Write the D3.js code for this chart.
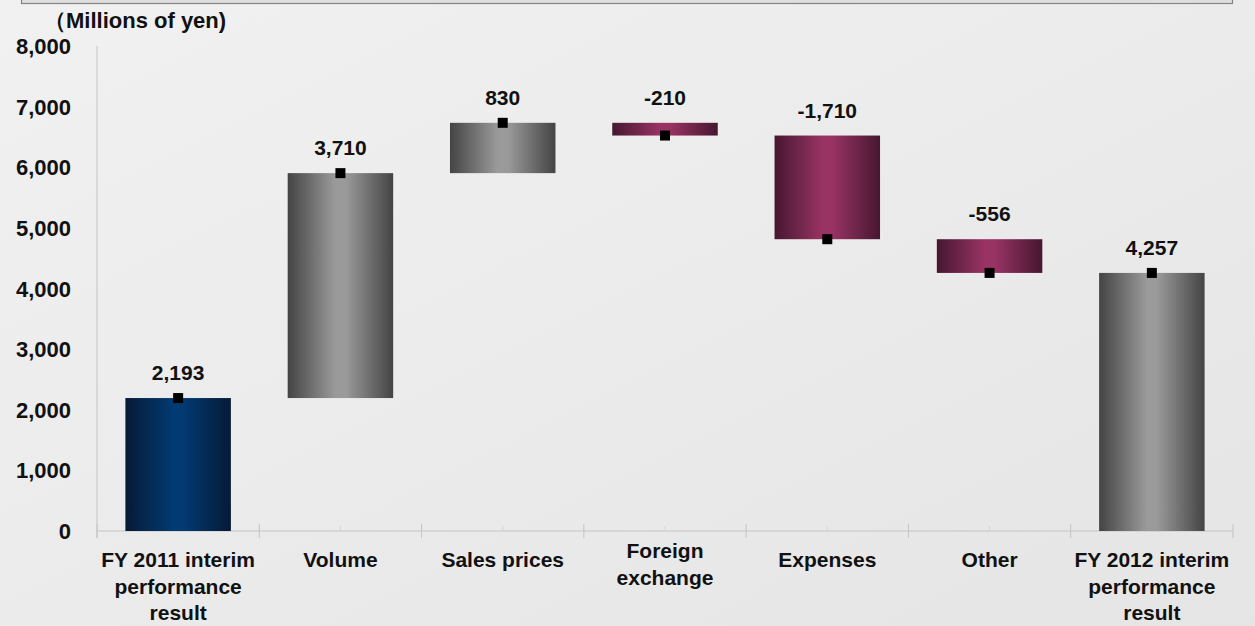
<html>
  <head>
    <meta charset="utf-8" />
    <script src="https://cdn.jsdelivr.net/npm/d3@7"></script>
    <style>
      body {
        margin: 0;
        background: #ececec;
        font-family: "Liberation Sans", Arial, sans-serif;
      }
    </style>
  </head>
  <body>
    <svg id="chart" width="1255" height="626"></svg>
    <script>
      // waterfall data (millions of yen)
      var categories = [
        "FY 2011 interim|performance|result",
        "Volume",
        "Sales prices",
        "Foreign|exchange",
        "Expenses",
        "Other",
        "FY 2012 interim|performance|result",
      ];
      var values = [2193, 3710, 830, -210, -1710, -556, 4257];
      var kinds = ["start", "up", "up", "down", "down", "down", "end"];
      var valueLabels = ["2,193", "3,710", "830", "-210", "-1,710", "-556", "4,257"];
      var yTicks = [0, 1000, 2000, 3000, 4000, 5000, 6000, 7000, 8000];
      var unitLabel = "（Millions of yen)";

      var svg = d3.select("#chart"),
        margin = { top: 46, bottom: 95, left: 97, right: 22 },
        width = +svg.attr("width"),
        height = +svg.attr("height");

      // background
      var defs = svg.append("defs");
      var bg = defs
        .append("linearGradient")
        .attr("id", "bg")
        .attr("x1", 0).attr("y1", 0).attr("x2", 1).attr("y2", 1);
      bg.append("stop").attr("offset", 0).attr("stop-color", "#f1f1f1");
      bg.append("stop").attr("offset", 0.5).attr("stop-color", "#ebebeb");
      bg.append("stop").attr("offset", 1).attr("stop-color", "#e5e5e5");
      svg.append("rect").attr("width", width).attr("height", height).attr("fill", "url(#bg)");

      // header strip at the top
      svg
        .append("rect")
        .attr("x", 21.5)
        .attr("y", -5)
        .attr("width", 1211)
        .attr("height", 8.5)
        .attr("fill", "#dedede")
        .attr("stroke", "#858585")
        .attr("stroke-width", 1.2);

      var grads = {
        start: ["#061a36", "#023a72"],
        up: ["#444444", "#9a9a9a"],
        end: ["#444444", "#9a9a9a"],
        down: ["#461731", "#983363"],
      };
      Object.keys(grads).forEach(function (k) {
        var g = defs
          .append("linearGradient")
          .attr("id", "g-" + k)
          .attr("x1", 0).attr("x2", 1).attr("y1", 0).attr("y2", 0);
        g.append("stop").attr("offset", 0).attr("stop-color", grads[k][0]);
        g.append("stop").attr("offset", 0.45).attr("stop-color", grads[k][1]);
        g.append("stop").attr("offset", 0.55).attr("stop-color", grads[k][1]);
        g.append("stop").attr("offset", 1).attr("stop-color", grads[k][0]);
      });

      // cumulative positions
      var run = 0;
      var data = values.map(function (v, i) {
        var d = { cat: categories[i], kind: kinds[i], label: valueLabels[i] };
        if (kinds[i] == "start" || kinds[i] == "end") {
          d.from = 0;
          d.to = v;
          run = v;
        } else {
          d.from = run;
          d.to = run + v;
          run = run + v;
        }
        return d;
      });

      var x = d3
        .scaleBand()
        .domain(categories)
        .range([margin.left, width - margin.right])
        .paddingInner(0.35)
        .paddingOuter(0.175);

      var y = d3.scaleLinear().domain([0, 8000]).range([height - margin.bottom, margin.top]);

      var axisColor = "#c4c4c4";

      // y axis line and labels
      svg
        .append("line")
        .attr("x1", margin.left).attr("x2", margin.left)
        .attr("y1", y(8000)).attr("y2", y(0) + 7)
        .attr("stroke", axisColor);

      svg
        .selectAll(".ytick")
        .data(yTicks)
        .enter()
        .append("text")
        .attr("class", "ytick")
        .attr("x", 71)
        .attr("y", (d) => y(d) + 8)
        .attr("text-anchor", "end")
        .attr("font-size", 22)
        .attr("font-weight", "bold")
        .attr("fill", "#111")
        .text((d) => d3.format(",")(d));

      svg
        .append("text")
        .attr("x", 44)
        .attr("y", 28)
        .attr("font-size", 22)
        .attr("font-weight", "bold")
        .attr("fill", "#111")
        .text(unitLabel);

      // x axis baseline and ticks
      var step = x.step();
      svg
        .append("line")
        .attr("x1", margin.left).attr("x2", width - margin.right)
        .attr("y1", y(0)).attr("y2", y(0))
        .attr("stroke", axisColor);

      svg
        .selectAll(".xtick")
        .data(d3.range(categories.length + 1))
        .enter()
        .append("line")
        .attr("x1", (i) => margin.left + i * step)
        .attr("x2", (i) => margin.left + i * step)
        .attr("y1", y(0) - 7)
        .attr("y2", y(0) + 7)
        .attr("stroke", axisColor);

      svg
        .selectAll(".ctick")
        .data(categories)
        .enter()
        .append("line")
        .attr("x1", (d) => x(d) + x.bandwidth() / 2)
        .attr("x2", (d) => x(d) + x.bandwidth() / 2)
        .attr("y1", y(0) - 5)
        .attr("y2", y(0))
        .attr("stroke", "#d4d4d4");

      // category labels
      var catText = svg
        .selectAll(".cat")
        .data(categories)
        .enter()
        .append("text")
        .attr("class", "cat")
        .attr("text-anchor", "middle")
        .attr("font-size", 21)
        .attr("font-weight", "bold")
        .attr("fill", "#111")
        .attr("x", (d) => x(d) + x.bandwidth() / 2)
        .attr("y", function (d) {
          var n = d.split("|").length;
          return n == 2 ? 558 : 567;
        });
      catText
        .selectAll("tspan")
        .data((d) => d.split("|").map((t) => ({ t: t, c: d })))
        .enter()
        .append("tspan")
        .attr("x", (d) => x(d.c) + x.bandwidth() / 2)
        .attr("dy", (d, i) => (i == 0 ? 0 : 26.5))
        .text((d) => d.t);

      // bars
      svg
        .selectAll(".bar")
        .data(data)
        .enter()
        .append("rect")
        .attr("class", "bar")
        .attr("x", (d) => x(d.cat))
        .attr("width", x.bandwidth())
        .attr("y", (d) => y(Math.max(d.from, d.to)))
        .attr("height", (d) => Math.abs(y(d.from) - y(d.to)))
        .attr("fill", (d) => "url(#g-" + d.kind + ")");

      // running-total markers
      svg
        .selectAll(".marker")
        .data(data)
        .enter()
        .append("rect")
        .attr("class", "marker")
        .attr("x", (d) => x(d.cat) + x.bandwidth() / 2 - 5)
        .attr("y", (d) => y(d.to) - 5)
        .attr("width", 10)
        .attr("height", 10)
        .attr("fill", "#000");

      // value labels
      svg
        .selectAll(".vlabel")
        .data(data)
        .enter()
        .append("text")
        .attr("class", "vlabel")
        .attr("text-anchor", "middle")
        .attr("font-size", 21)
        .attr("font-weight", "bold")
        .attr("fill", "#111")
        .attr("x", (d) => x(d.cat) + x.bandwidth() / 2)
        .attr("y", (d) => y(Math.max(d.from, d.to)) - 18)
        .text((d) => d.label);
    </script>
  </body>
</html>
